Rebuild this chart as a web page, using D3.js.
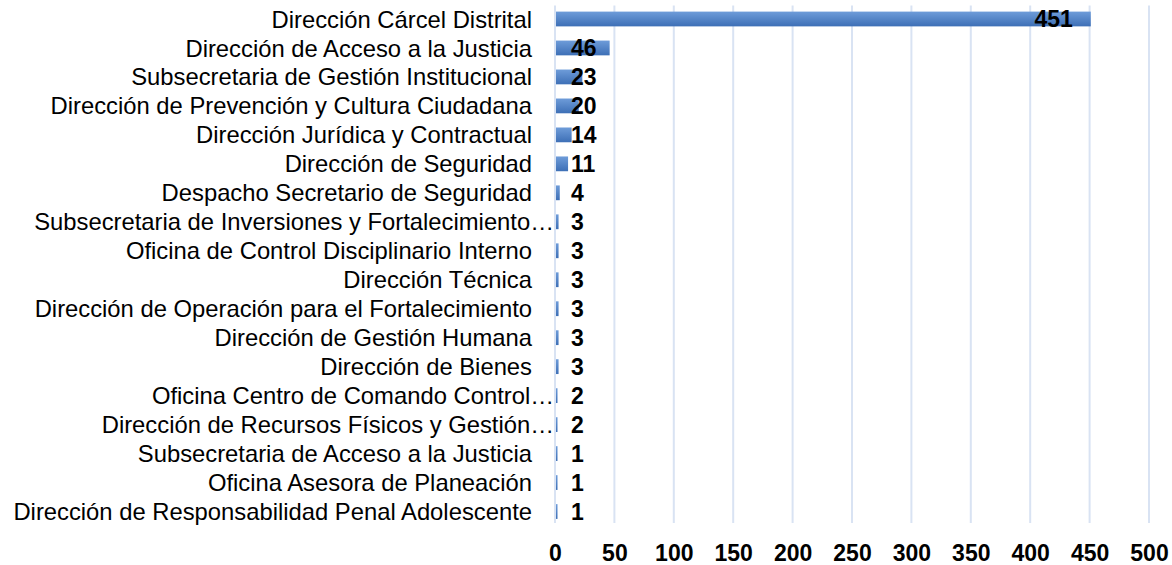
<!DOCTYPE html>
<html>
<head>
<meta charset="utf-8">
<script src="https://cdn.jsdelivr.net/npm/d3@7"></script>
<style>
  body { margin: 0; background: #fff; }
  svg { display: block; font-family: "Liberation Sans", Arial, sans-serif; }
</style>
</head>
<body>
<div id="chart"></div>
<script>
var categories = [
  "Dirección Cárcel Distrital",
  "Dirección de Acceso a la Justicia",
  "Subsecretaria de Gestión Institucional",
  "Dirección de Prevención y Cultura Ciudadana",
  "Dirección Jurídica y Contractual",
  "Dirección de Seguridad",
  "Despacho Secretario de Seguridad",
  "Subsecretaria de Inversiones y Fortalecimiento…",
  "Oficina de Control Disciplinario Interno",
  "Dirección Técnica",
  "Dirección de Operación para el Fortalecimiento",
  "Dirección de Gestión Humana",
  "Dirección de Bienes ",
  "Oficina Centro de Comando Control…",
  "Dirección de Recursos Físicos y Gestión…",
  "Subsecretaria de Acceso a la Justicia",
  "Oficina Asesora de Planeación",
  "Dirección de Responsabilidad Penal Adolescente"
];
var values = [451, 46, 23, 20, 14, 11, 4, 3, 3, 3, 3, 3, 3, 2, 2, 1, 1, 1];
var xTicks = [0, 50, 100, 150, 200, 250, 300, 350, 400, 450, 500];

var width = 1172, height = 565;
var plotLeft = 555, plotRight = 1149, plotTop = 4.5, plotBottom = 526;

var svg = d3.select("#chart").append("svg")
  .attr("width", width).attr("height", height);

var defs = svg.append("defs");
var grad = defs.append("linearGradient")
  .attr("id", "barGrad").attr("x1", 0).attr("y1", 0).attr("x2", 0).attr("y2", 1);
grad.append("stop").attr("offset", "0%").attr("stop-color", "#6e9cd9");
grad.append("stop").attr("offset", "100%").attr("stop-color", "#3d6fb6");

var x = d3.scaleLinear().domain([0, 500]).range([plotLeft, plotRight]);
var y = d3.scaleBand().domain(categories).range([plotTop, plotBottom]).paddingInner(0.49).paddingOuter(0.245);

// gridlines
svg.append("g").selectAll("line")
  .data(xTicks)
  .enter().append("line")
  .attr("x1", function (d) { return x(d); })
  .attr("x2", function (d) { return x(d); })
  .attr("y1", plotTop + 1)
  .attr("y2", plotBottom - 3)
  .attr("stroke", "#d9e3f3")
  .attr("stroke-width", 2);

// bars
svg.append("g").selectAll("rect")
  .data(values)
  .enter().append("rect")
  .attr("x", x(0) + 1)
  .attr("y", function (d, i) { return y(categories[i]); })
  .attr("width", function (d) { return Math.max(x(d) - x(0) - 1, 1.5); })
  .attr("height", y.bandwidth())
  .attr("fill", "url(#barGrad)");

// category labels (truncated ones run up to the axis, like Excel does)
svg.append("g").selectAll("text")
  .data(categories)
  .enter().append("text")
  .attr("x", function (d) { return d.slice(-1) === "…" ? 554 : 532; })
  .attr("y", function (d) { return y(d) + y.bandwidth() / 2; })
  .attr("dy", "0.36em")
  .attr("text-anchor", "end")
  .attr("font-size", 23.8)
  .attr("fill", "#000")
  .text(function (d) { return d; });

// value labels
var vl = svg.append("g").selectAll("text")
  .data(values)
  .enter().append("text")
  .attr("y", function (d, i) { return y(categories[i]) + y.bandwidth() / 2; })
  .attr("dy", "0.36em")
  .attr("font-size", 23)
  .attr("font-weight", "bold")
  .attr("fill", "#000")
  .text(function (d) { return d; });
vl.attr("x", function (d) {
  var w = this.getComputedTextLength();
  return Math.max(x(d) - 18 - w, x(0) + 16);
});

// x axis tick labels
var xAxis = d3.axisBottom(x).tickValues(xTicks).tickSize(0).tickPadding(0);
var ax = svg.append("g").attr("transform", "translate(0," + 545 + ")").call(xAxis);
ax.select(".domain").remove();
ax.selectAll("text")
  .attr("font-size", 23)
  .attr("font-weight", "bold")
  .attr("fill", "#000")
  .attr("font-family", "Liberation Sans, Arial, sans-serif");
</script>
</body>
</html>
